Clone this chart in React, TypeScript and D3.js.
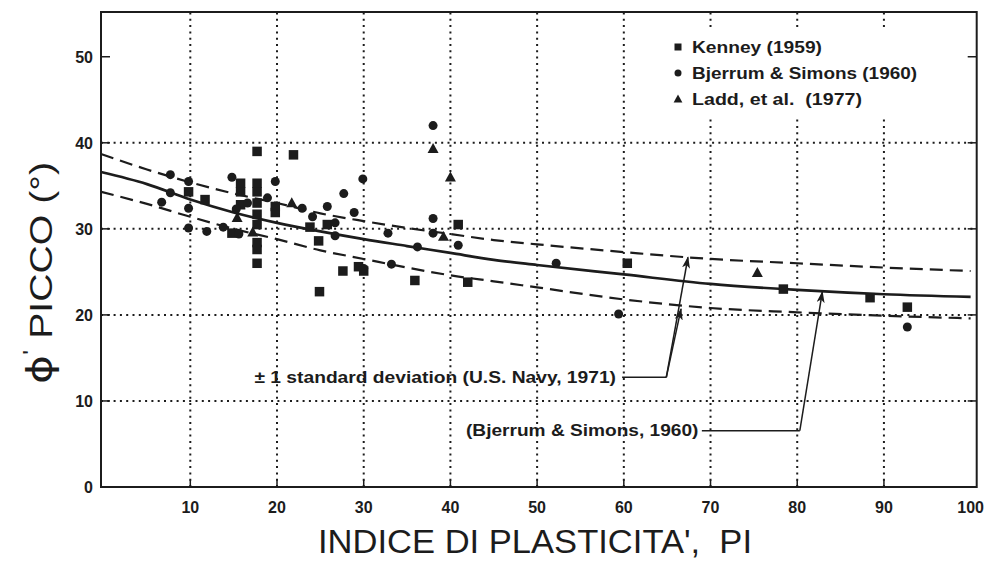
import React from "react";
import * as d3 from "d3";

const W = 990;
const H = 563;

const X_TICK_LABELS = [10, 20, 30, 40, 50, 60, 70, 80, 90, 100];
const Y_TICK_LABELS = [0, 10, 20, 30, 40, 50];
const X_GRID = [10, 20, 30, 40, 50, 60, 70, 80, 90];
const Y_GRID = [10, 20, 30, 40];

// Kenney (1959) – squares  [PI, phi']
const kenney: [number, number][] = [
  [9.8, 34.3], [11.7, 33.4], [15.8, 35.3], [15.8, 34.3], [15.8, 32.8],
  [17.7, 39.0], [17.7, 35.3], [17.7, 34.3], [17.7, 33.0], [17.7, 31.7],
  [17.7, 30.5], [17.7, 28.4], [17.7, 27.6], [17.7, 26.0], [19.8, 32.6],
  [19.8, 31.9], [21.9, 38.6], [14.8, 29.5], [23.8, 30.2], [24.8, 28.6],
  [24.9, 22.7], [25.8, 30.5], [27.6, 25.1], [29.4, 25.6], [30.0, 25.1],
  [35.9, 24.0], [40.9, 30.5], [42.0, 23.8], [60.4, 26.0], [78.4, 23.0],
  [88.4, 22.0], [92.7, 20.9],
];

// Bjerrum & Simons (1960) – circles
const bjerrum: [number, number][] = [
  [6.7, 33.1], [7.7, 36.3], [7.7, 34.2], [9.8, 35.5], [9.8, 32.4],
  [9.8, 30.1], [11.9, 29.7], [13.8, 30.2], [14.8, 36.0], [15.3, 32.3],
  [15.6, 29.4], [16.6, 33.0], [18.9, 33.6], [19.8, 35.5], [22.9, 32.4],
  [24.1, 31.4], [25.8, 32.6], [26.7, 30.7], [26.7, 29.2], [27.7, 34.1],
  [28.9, 31.9], [29.9, 35.8], [30.0, 25.4], [32.8, 29.5], [33.2, 25.9],
  [36.2, 27.9], [38.0, 42.0], [38.0, 31.2], [38.0, 29.5], [40.9, 28.1],
  [52.2, 26.0], [59.4, 20.1], [92.7, 18.6],
];

// Ladd, et al. (1977) – triangles
const ladd: [number, number][] = [
  [15.4, 31.3], [17.2, 29.6], [21.7, 33.0], [38.0, 39.3], [39.2, 29.1],
  [40.0, 36.0], [75.4, 24.9],
];

// Mean curve (Bjerrum & Simons, 1960)
const meanCurve: [number, number][] = [
  [-0.3, 36.6], [5, 35.2], [10, 33.4], [15, 31.9], [20, 30.7], [25, 29.7],
  [30, 28.8], [35, 28.0], [40, 27.2], [45, 26.4], [50, 25.8], [60, 24.7],
  [70, 23.6], [80, 22.9], [90, 22.4], [100, 22.1],
];

// ± 1 standard deviation (U.S. Navy, 1971)
const upperCurve: [number, number][] = [
  [-0.3, 38.7], [5, 36.9], [10, 35.4], [15, 34.1], [20, 33.0], [25, 31.8],
  [30, 30.9], [35, 30.1], [40, 29.4], [45, 28.7], [50, 28.2], [60, 27.3],
  [70, 26.5], [80, 26.0], [90, 25.5], [100, 25.1],
];
const lowerCurve: [number, number][] = [
  [-0.3, 34.3], [5, 32.9], [10, 31.4], [15, 30.0], [20, 28.8], [25, 27.5],
  [30, 26.5], [35, 25.5], [40, 24.6], [45, 23.9], [50, 23.2], [60, 21.8],
  [70, 20.8], [80, 20.3], [90, 19.9], [100, 19.6],
];

const LEGEND = [
  { label: "Kenney (1959)", shape: "square", len: 130 },
  { label: "Bjerrum & Simons (1960)", shape: "circle", len: 225 },
  { label: "Ladd, et al.\u00a0\u00a0(1977)", shape: "triangle", len: 170 },
];

// annotation anchors in data units
const navyText = { label: "± 1 standard deviation (U.S. Navy, 1971)", x0: 17.4, x1: 59.1, y: 12.8 };
const navyLeader: [number, number][] = [[59.8, 12.75], [64.9, 12.75]];
const navyTargets: [number, number][] = [[67.4, 26.7], [66.6, 20.7]];
const bjText = { label: "(Bjerrum & Simons, 1960)", x0: 41.8, x1: 68.6, y: 6.6 };
const bjLeader: [number, number][] = [[69.0, 6.55], [80.3, 6.55]];
const bjTarget: [number, number] = [82.9, 22.7];

const x = d3.scaleLinear().domain([-0.3, 100.7]).range([101, 976.7]);
const y = d3.scaleLinear().domain([0, 55.2]).range([487, 12]);

const INK = "#1c1c1c";
const FONT = "'Liberation Sans', Arial, Helvetica, sans-serif";

function Marker({ shape, cx, cy, s }: { shape: string; cx: number; cy: number; s: number }) {
  if (shape === "square")
    return <rect x={cx - s / 2} y={cy - s / 2} width={s} height={s} fill={INK} />;
  if (shape === "circle") return <circle cx={cx} cy={cy} r={s / 2} fill={INK} />;
  const h = s * 0.95;
  return (
    <path
      d={`M${cx},${cy - h * 0.6} L${cx + s * 0.55},${cy + h * 0.45} L${cx - s * 0.55},${cy + h * 0.45} Z`}
      fill={INK}
    />
  );
}

export default function App() {
  const line = d3
    .line<[number, number]>()
    .x((d) => x(d[0]))
    .y((d) => y(d[1]))
    .curve(d3.curveMonotoneX);

  const left = x.range()[0];
  const right = x.range()[1];
  const top = y.range()[1];
  const bottom = y.range()[0];

  return (
    <svg
      width={W}
      height={H}
      viewBox={`0 0 ${W} ${H}`}
      style={{ position: "absolute", left: 0, top: 0, background: "#fff" }}
      fontFamily={FONT}
    >
      <defs>
        <marker id="arr" viewBox="0 0 12 8" refX="11" refY="4" markerWidth="12" markerHeight="8"
          markerUnits="userSpaceOnUse" orient="auto">
          <path d="M0,0 L12,4 L0,8 L3,4 Z" fill={INK} />
        </marker>
      </defs>
      <rect x={0} y={0} width={W} height={H} fill="#fff" />

      {/* grid */}
      {X_GRID.map((v) => (
        <line key={"gx" + v} x1={x(v)} x2={x(v)} y1={bottom} y2={top}
          stroke={INK} strokeWidth={2} strokeDasharray="2,4.3" />
      ))}
      {Y_GRID.map((v) => (
        <line key={"gy" + v} x1={left} x2={right} y1={y(v)} y2={y(v)}
          stroke={INK} strokeWidth={2} strokeDasharray="2,4.3" />
      ))}

      {/* legend background */}
      <rect x={668} y={28} width={262} height={88} fill="#fff" />

      {/* curves */}
      <path d={line(upperCurve) || ""} fill="none" stroke={INK} strokeWidth={2.2} strokeDasharray="13,7" />
      <path d={line(lowerCurve) || ""} fill="none" stroke={INK} strokeWidth={2.2} strokeDasharray="13,7" />
      <path d={line(meanCurve) || ""} fill="none" stroke={INK} strokeWidth={2.7} />

      {/* data */}
      {kenney.map((d, i) => (
        <Marker key={"k" + i} shape="square" cx={x(d[0])} cy={y(d[1])} s={9.5} />
      ))}
      {bjerrum.map((d, i) => (
        <Marker key={"b" + i} shape="circle" cx={x(d[0])} cy={y(d[1])} s={9} />
      ))}
      {ladd.map((d, i) => (
        <Marker key={"l" + i} shape="triangle" cx={x(d[0])} cy={y(d[1])} s={10} />
      ))}

      {/* frame */}
      <rect x={left} y={top} width={right - left} height={bottom - top} fill="none" stroke={INK} strokeWidth={2} />

      {/* ticks */}
      {X_GRID.map((v) => (
        <line key={"tx" + v} x1={x(v)} x2={x(v)} y1={bottom} y2={bottom - 7} stroke={INK} strokeWidth={1.5} />
      ))}
      {[10, 20, 30, 40, 50].map((v) => (
        <g key={"ty" + v}>
          <line x1={left} x2={left + 9} y1={y(v)} y2={y(v)} stroke={INK} strokeWidth={1.5} />
          <line x1={right} x2={right - 9} y1={y(v)} y2={y(v)} stroke={INK} strokeWidth={1.5} />
        </g>
      ))}

      {/* tick labels */}
      {X_TICK_LABELS.map((v) => (
        <text key={"lx" + v} x={x(v)} y={513} textAnchor="middle" fontSize={16} fontWeight="bold" fill={INK}>
          {v}
        </text>
      ))}
      {Y_TICK_LABELS.map((v) => (
        <text key={"ly" + v} x={93} y={y(v) + 6} textAnchor="end" fontSize={16} fontWeight="bold" fill={INK}>
          {v}
        </text>
      ))}

      {/* axis titles */}
      <text x={535} y={553} textAnchor="middle" fontSize={33} fill={INK} textLength={434} lengthAdjust="spacingAndGlyphs">
        {"INDICE DI PLASTICITA',\u00a0\u00a0PI"}
      </text>
      <text transform="translate(52,273) rotate(-90)" textAnchor="middle" fontSize={32} fill={INK}
        textLength={222} lengthAdjust="spacingAndGlyphs">
        <tspan fontSize={36} fontFamily="'DejaVu Sans', sans-serif">ϕ</tspan>
        <tspan fontSize={22} dy={-14}>'</tspan>
        <tspan dy={14}>{"\u00a0PICCO (°)"}</tspan>
      </text>

      {/* legend */}
      {LEGEND.map((l, i) => {
        const cy = 47 + i * 26;
        return (
          <g key={"lg" + i}>
            <Marker shape={l.shape} cx={678} cy={cy} s={l.shape === "triangle" ? 8 : 7} />
            <text x={692} y={cy + 6} fontSize={16} fontWeight="bold" fill={INK}
              textLength={l.len} lengthAdjust="spacingAndGlyphs">
              {l.label}
            </text>
          </g>
        );
      })}

      {/* annotations */}
      <text x={x(navyText.x0)} y={y(navyText.y) + 6} fontSize={16} fontWeight="bold" fill={INK}
        textLength={x(navyText.x1) - x(navyText.x0)} lengthAdjust="spacingAndGlyphs">
        {navyText.label}
      </text>
      <line x1={x(navyLeader[0][0])} x2={x(navyLeader[1][0])} y1={y(navyLeader[0][1])} y2={y(navyLeader[1][1])}
        stroke={INK} strokeWidth={1.5} />
      {navyTargets.map((t, i) => (
        <line key={"nt" + i} x1={x(navyLeader[1][0])} y1={y(navyLeader[1][1])} x2={x(t[0])} y2={y(t[1])}
          stroke={INK} strokeWidth={1.5} markerEnd="url(#arr)" />
      ))}
      <text x={x(bjText.x0)} y={y(bjText.y) + 6} fontSize={16} fontWeight="bold" fill={INK}
        textLength={x(bjText.x1) - x(bjText.x0)} lengthAdjust="spacingAndGlyphs">
        {bjText.label}
      </text>
      <line x1={x(bjLeader[0][0])} x2={x(bjLeader[1][0])} y1={y(bjLeader[0][1])} y2={y(bjLeader[1][1])}
        stroke={INK} strokeWidth={1.5} />
      <line x1={x(bjLeader[1][0])} y1={y(bjLeader[1][1])} x2={x(bjTarget[0])} y2={y(bjTarget[1])}
        stroke={INK} strokeWidth={1.5} markerEnd="url(#arr)" />
    </svg>
  );
}
